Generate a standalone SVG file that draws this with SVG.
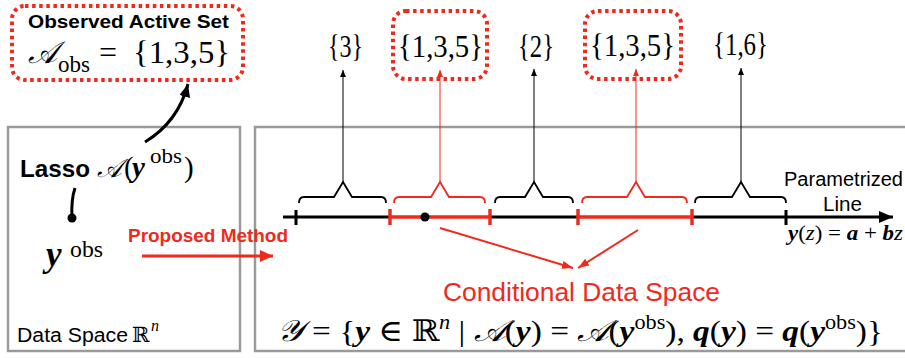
<svg xmlns="http://www.w3.org/2000/svg" width="905" height="358" viewBox="0 0 905 358">
<defs>
<style>
.sans{font-family:"Liberation Sans",Arial,"DejaVu Sans",sans-serif}
.serif{font-family:"Liberation Serif","DejaVu Serif",serif}
.scr{font-family:"DejaVu Serif","Noto Sans","DejaVu Sans",serif;font-style:italic;font-weight:normal}
.red{fill:#ee2a1c}
.box{fill:none;stroke:#9a9a9a;stroke-width:2.5}
.dotbox{fill:none;stroke:#ee2a1c;stroke-width:4;stroke-dasharray:3.5 3.6}
.bi{font-weight:bold;font-style:italic}
.it{font-style:italic}
.brace{fill:none;stroke-width:1.8;stroke-linejoin:miter}
.thin{stroke-width:1;fill:none}
</style>
<marker id="ahk" markerUnits="userSpaceOnUse" viewBox="0 0 7 6" refX="7" refY="3" markerWidth="7" markerHeight="6" orient="auto"><path d="M0,0 L7,3 L0,6 z" fill="#000"/></marker>
<marker id="ahr" markerUnits="userSpaceOnUse" viewBox="0 0 7 6" refX="7" refY="3" markerWidth="7" markerHeight="6" orient="auto"><path d="M0,0 L7,3 L0,6 z" fill="#ee2a1c"/></marker>
<marker id="ahr2" markerUnits="userSpaceOnUse" viewBox="0 0 11 8" refX="11" refY="4" markerWidth="11" markerHeight="8" orient="auto"><path d="M0,0 L11,4 L0,8 z" fill="#ee2a1c"/></marker>
<marker id="ahbig" markerUnits="userSpaceOnUse" viewBox="0 0 14 12" refX="14" refY="6" markerWidth="14" markerHeight="12" orient="auto"><path d="M0,0 L14,6 L0,12 z" fill="#000"/></marker>
<marker id="ahbigr" markerUnits="userSpaceOnUse" viewBox="0 0 13 12" refX="13" refY="6" markerWidth="13" markerHeight="12" orient="auto"><path d="M0,0 L13,6 L0,12 z" fill="#ee2a1c"/></marker>
<marker id="ahlasso" markerUnits="userSpaceOnUse" viewBox="0 0 13 11" refX="13" refY="5.5" markerWidth="13" markerHeight="11" orient="auto"><path d="M0,0 L13,5.5 L0,11 z" fill="#000"/></marker>
</defs>
<rect width="905" height="358" fill="#fff"/>

<g id="observed">
<rect class="dotbox" x="12" y="6" width="231" height="74" rx="13"/>
<text class="sans" x="28" y="28" font-size="19" font-weight="bold" textLength="201" lengthAdjust="spacingAndGlyphs">Observed Active Set</text>
<text class="scr" x="28" y="63" font-size="31">𝒜</text>
<text class="serif" x="58" y="72" font-size="23" textLength="32" lengthAdjust="spacingAndGlyphs">obs</text>
<text class="serif" x="99" y="63" font-size="32">=</text>
<text class="serif" x="133" y="63" font-size="32" textLength="97" lengthAdjust="spacingAndGlyphs">{1,3,5}</text>
</g>

<g id="dataspace">
<rect class="box" x="8" y="127" width="232" height="224"/>
<text class="sans" x="17" y="342" font-size="20" textLength="111" lengthAdjust="spacingAndGlyphs">Data Space</text>
<text class="serif" x="132" y="342" font-size="21">ℝ</text>
<text class="serif it" x="151" y="331" font-size="16">n</text>
</g>

<g id="lasso">
<text class="sans" x="20" y="177" font-size="24" font-weight="bold" textLength="70" lengthAdjust="spacingAndGlyphs">Lasso</text>
<text class="scr" x="97" y="177" font-size="26">𝒜</text>
<text class="serif" x="124" y="177" font-size="29">(</text>
<text class="serif bi" x="132" y="177" font-size="29">y</text>
<text class="serif" x="150" y="163" font-size="21" textLength="32" lengthAdjust="spacingAndGlyphs">obs</text>
<text class="serif" x="184" y="177" font-size="29">)</text>
</g>

<g id="yobs">
<text class="serif bi" x="46" y="266" font-size="35">y</text>
<text class="serif" x="70" y="257" font-size="23" textLength="33" lengthAdjust="spacingAndGlyphs">obs</text>
</g>

<g id="condbox">
<rect class="box" x="255" y="127" width="660" height="224"/>
</g>

<g id="labels">
<text class="serif" x="328" y="57" font-size="32" textLength="35" lengthAdjust="spacingAndGlyphs">{3}</text>
<rect class="dotbox" x="393" y="11" width="94" height="68" rx="13"/>
<text class="serif" x="398" y="57" font-size="32" textLength="85" lengthAdjust="spacingAndGlyphs">{1,3,5}</text>
<text class="serif" x="518" y="57" font-size="32" textLength="36" lengthAdjust="spacingAndGlyphs">{2}</text>
<rect class="dotbox" x="585" y="11" width="96" height="68" rx="13"/>
<text class="serif" x="590" y="56" font-size="32" textLength="85" lengthAdjust="spacingAndGlyphs">{1,3,5}</text>
<text class="serif" x="713" y="55" font-size="32" textLength="55" lengthAdjust="spacingAndGlyphs">{1,6}</text>
</g>

<g id="line">
<text class="sans" x="784" y="186" font-size="20" textLength="119" lengthAdjust="spacingAndGlyphs">Parametrized</text>
<text class="sans" x="823" y="211" font-size="20" textLength="39" lengthAdjust="spacingAndGlyphs">Line</text>
<text class="serif" x="788" y="240" font-size="21" textLength="115" lengthAdjust="spacingAndGlyphs"><tspan class="bi">y</tspan>(<tspan class="it">z</tspan>) = <tspan class="bi">a</tspan> + <tspan class="bi">b</tspan><tspan class="it">z</tspan></text>
</g>

<g id="connectors">
<line x1="283" y1="217" x2="390" y2="217" stroke="#000" stroke-width="3"/>
<line x1="390" y1="217" x2="490" y2="217" stroke="#ee2a1c" stroke-width="3.5"/>
<line x1="490" y1="217" x2="578" y2="217" stroke="#000" stroke-width="3"/>
<line x1="578" y1="217" x2="692" y2="217" stroke="#ee2a1c" stroke-width="3.5"/>
<path d="M692,217 L893,217" stroke="#000" stroke-width="3" marker-end="url(#ahbig)"/>
<g stroke-width="3">
<line x1="296" y1="210" x2="296" y2="225" stroke="#000"/>
<line x1="390" y1="209" x2="390" y2="225" stroke="#ee2a1c" stroke-width="3.5"/>
<line x1="490" y1="209" x2="490" y2="225" stroke="#ee2a1c" stroke-width="3.5"/>
<line x1="578" y1="209" x2="578" y2="225" stroke="#ee2a1c" stroke-width="3.5"/>
<line x1="692" y1="209" x2="692" y2="225" stroke="#ee2a1c" stroke-width="3.5"/>
<line x1="786" y1="210" x2="786" y2="225" stroke="#000"/>
</g>
<circle cx="425" cy="217" r="4.5" fill="#000"/>
<path class="brace" stroke="#000" d="M299,203 Q299,197 304,197 L334,197 L343,182 L352,197 L381,197 Q386,197 386,203"/>
<path class="brace" stroke="#ee2a1c" d="M394,203 Q394,197 399,197 L431,197 L440,182 L449,197 L480,197 Q485,197 485,203"/>
<path class="brace" stroke="#000" d="M495,203 Q495,197 500,197 L525,197 L534,182 L543,197 L568,197 Q573,197 573,203"/>
<path class="brace" stroke="#ee2a1c" d="M582,203 Q582,197 587,197 L627,197 L636,182 L645,197 L682,197 Q687,197 687,203"/>
<path class="brace" stroke="#000" d="M695,203 Q695,197 700,197 L732,197 L741,182 L750,197 L781,197 Q786,197 786,203"/>
<line class="thin" stroke="#000" x1="343" y1="182" x2="343" y2="70" marker-end="url(#ahk)"/>
<line class="thin" stroke="#ee2a1c" x1="440" y1="182" x2="440" y2="70" marker-end="url(#ahr)"/>
<line class="thin" stroke="#000" x1="534" y1="182" x2="534" y2="69" marker-end="url(#ahk)"/>
<line class="thin" stroke="#ee2a1c" x1="636" y1="182" x2="636" y2="69" marker-end="url(#ahr)"/>
<line class="thin" stroke="#000" x1="741" y1="182" x2="741" y2="68" marker-end="url(#ahk)"/>
<line x1="440" y1="228" x2="573" y2="268" stroke="#ee2a1c" stroke-width="2" marker-end="url(#ahr2)"/>
<line x1="638" y1="230" x2="578" y2="268" stroke="#ee2a1c" stroke-width="2" marker-end="url(#ahr2)"/>
<line x1="142" y1="256" x2="273" y2="256" stroke="#ee2a1c" stroke-width="3" marker-end="url(#ahbigr)"/>
<path d="M145,142 Q178,122 188,84" fill="none" stroke="#000" stroke-width="3" marker-end="url(#ahlasso)"/>
<path d="M75,188 Q71,200 72,217" fill="none" stroke="#000" stroke-width="3"/>
<circle cx="72" cy="218" r="4.5" fill="#000"/>
</g>

<g id="proposed">
<text class="sans red" x="128" y="242" font-size="18" font-weight="bold" textLength="160" lengthAdjust="spacingAndGlyphs">Proposed Method</text>
</g>

<g id="conditional">
<text class="sans red" x="443" y="301" font-size="25" textLength="277" lengthAdjust="spacingAndGlyphs">Conditional Data Space</text>
<text class="serif" x="277" y="341" font-size="30" textLength="606" lengthAdjust="spacingAndGlyphs"><tspan class="scr">𝒴</tspan> = {<tspan class="bi">y</tspan> ∈ ℝ<tspan class="it" font-size="20" dy="-12">n</tspan><tspan dy="12"> | </tspan><tspan class="scr">𝒜</tspan>(<tspan class="bi">y</tspan>) = <tspan class="scr">𝒜</tspan>(<tspan class="bi">y</tspan><tspan font-size="20" dy="-12">obs</tspan><tspan dy="12">), </tspan><tspan class="bi">q</tspan>(<tspan class="bi">y</tspan>) = <tspan class="bi">q</tspan>(<tspan class="bi">y</tspan><tspan font-size="20" dy="-12">obs</tspan><tspan dy="12">)}</tspan></text>
</g>
</svg>
